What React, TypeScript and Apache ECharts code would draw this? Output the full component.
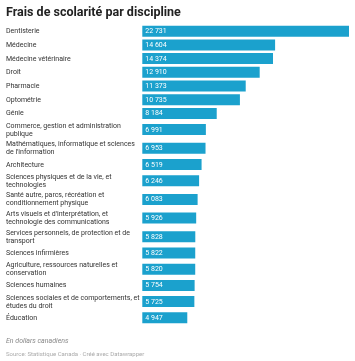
import React, { useEffect, useRef } from "react";
import * as echarts from "echarts";

const categories: string[] = [
  "Dentisterie",
  "Médecine",
  "Médecine vétérinaire",
  "Droit",
  "Pharmacie",
  "Optométrie",
  "Génie",
  "Commerce, gestion et administration\npublique",
  "Mathématiques, informatique et sciences\nde l'information",
  "Architecture",
  "Sciences physiques et de la vie, et\ntechnologies",
  "Santé autre, parcs, récréation et\nconditionnement physique",
  "Arts visuels et d'interprétation, et\ntechnologie des communications",
  "Services personnels, de protection et de\ntransport",
  "Sciences infirmières",
  "Agriculture, ressources naturelles et\nconservation",
  "Sciences humaines",
  "Sciences sociales et de comportements, et\nétudes du droit",
  "Éducation",
];

const values: number[] = [
  22731, 14604, 14374, 12910, 11373, 10735, 8184, 6991, 6953, 6519, 6246, 6083,
  5926, 5828, 5822, 5820, 5754, 5725, 4947,
];

const title = "Frais de scolarité par discipline";
const note = "En dollars canadiens";
const source = "Source: Statistique Canada · Créé avec Datawrapper";

const ROW1 = 13.7;
const ROW2 = 18.7;
const BAR_H = 11;
const BAR_COLOR = "#1ba1cd";
const FONT = "Roboto, 'Noto Sans', sans-serif";

function fmt(v: number): string {
  return String(v).replace(/\B(?=(\d{3})+(?!\d))/g, " ");
}

export default function App() {
  const ref = useRef<HTMLDivElement>(null);
  useEffect(() => {
    if (!ref.current) return;
    const chart = echarts.init(ref.current, null, { renderer: "svg" });

    const heights = categories.map((c) => (c.includes("\n") ? ROW2 : ROW1));
    const centers: number[] = [];
    let acc = 0;
    heights.forEach((h) => {
      centers.push(acc + h / 2);
      acc += h;
    });
    const total = acc;
    const top = 31.2 - ROW1 / 2;
    const data = values.map((v, i) => [v, centers[i], i]);

    chart.setOption({
      animation: false,
      grid: { left: 142.3, right: 6, top: top, height: total },
      xAxis: {
        type: "value",
        min: 0,
        max: Math.max(...values),
        show: false,
      },
      yAxis: {
        type: "value",
        min: 0,
        max: total,
        inverse: true,
        show: false,
      },
      title: [
        {
          text: title,
          left: 6,
          top: 5,
          padding: 0,
          textStyle: {
            fontFamily: FONT,
            fontSize: 12.5,
            fontWeight: "bold",
            color: "#222",
          },
        },
      ],
      graphic: [
        {
          type: "text",
          left: 6,
          top: 337,
          style: {
            text: note,
            fontFamily: FONT,
            fontSize: 7,
            fontStyle: "italic",
            fill: "#888",
          },
        },
        {
          type: "text",
          left: 6,
          top: 350,
          style: {
            text: source,
            fontFamily: FONT,
            fontSize: 6,
            fill: "#aaa",
          },
        },
      ],
      series: [
        {
          type: "custom",
          clip: false,
          data: data,
          encode: { x: 0, y: 1 },
          renderItem: (params: any, api: any) => {
            const v = api.value(0);
            const c = api.value(1);
            const idx = api.value(2);
            const p0 = api.coord([0, c]);
            const p1 = api.coord([v, c]);
            return {
              type: "group",
              children: [
                {
                  type: "rect",
                  shape: {
                    x: p0[0],
                    y: p0[1] - BAR_H / 2,
                    width: p1[0] - p0[0],
                    height: BAR_H,
                  },
                  style: { fill: BAR_COLOR },
                },
                {
                  type: "text",
                  x: p0[0] + 3,
                  y: p0[1],
                  style: {
                    text: fmt(v),
                    fill: "#fff",
                    fontFamily: FONT,
                    fontSize: 7,
                    verticalAlign: "middle",
                    align: "left",
                  },
                },
                {
                  type: "text",
                  x: 6,
                  y: p0[1],
                  style: {
                    text: categories[idx],
                    fill: "#333",
                    fontFamily: FONT,
                    fontSize: 7,
                    lineHeight: 8,
                    verticalAlign: "middle",
                    align: "left",
                  },
                },
              ],
            };
          },
        },
      ],
    });
    return () => chart.dispose();
  }, []);
  return (
    <div
      ref={ref}
      style={{ position: "fixed", left: 0, top: 0, width: 355, height: 361 }}
    />
  );
}
